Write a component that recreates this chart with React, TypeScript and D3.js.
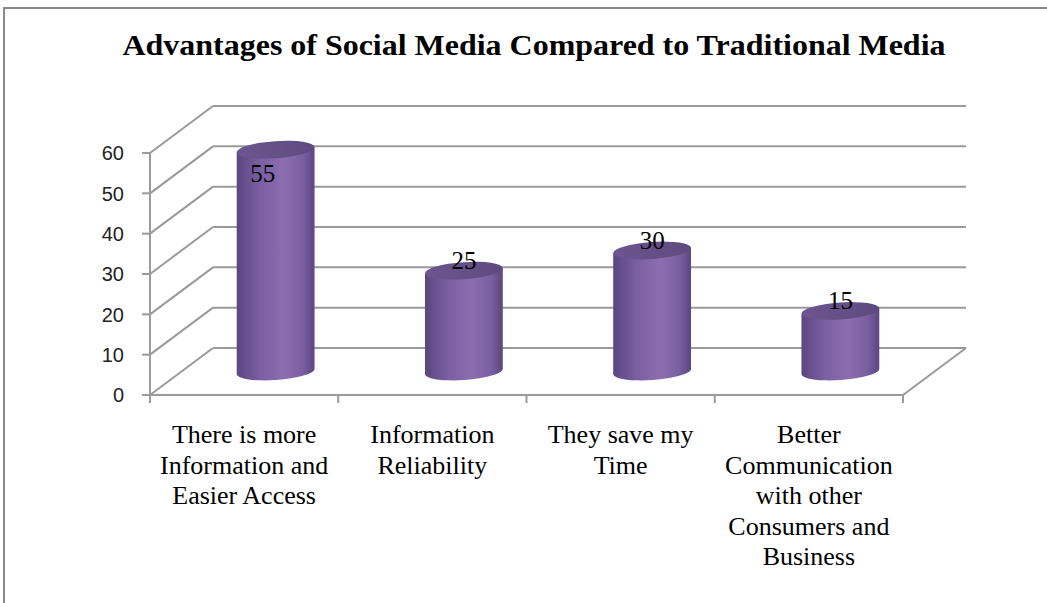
import React from "react";
import * as d3 from "d3";

const title = "Advantages of Social Media Compared to Traditional Media";
const categories = [
  ["There is more", "Information and", "Easier Access"],
  ["Information", "Reliability"],
  ["They save my", "Time"],
  ["Better", "Communication", "with other", "Consumers and", "Business"],
];
const values = [55, 25, 30, 15];
const yTicks = [0, 10, 20, 30, 40, 50, 60];

const W = 1047;
const H = 603;
const DX = 63;
const DY = -47;

export default function App() {
  const y = d3.scaleLinear().domain([0, 60]).range([395, 153]);
  const x = d3
    .scaleBand<number>()
    .domain(values.map((_, i) => i))
    .range([150, 903])
    .paddingInner(0)
    .paddingOuter(0);
  const bw = x.bandwidth();
  const rx = 39;
  const ry = 8.5;
  const theta = -4;
  const th = (theta * Math.PI) / 180;
  const ex = rx * Math.cos(th);
  const ey = rx * Math.sin(th);
  const grid = "#9a9a9a";

  return (
    <svg width={W} height={H} style={{ display: "block", position: "absolute", left: 0, top: 0 }}>
      <defs>
        <linearGradient id="body" x1="0" x2="1" y1="0" y2="0">
          <stop offset="0" stopColor="#5a4680" />
          <stop offset="0.3" stopColor="#7a5fa2" />
          <stop offset="0.6" stopColor="#8c6eb0" />
          <stop offset="0.85" stopColor="#7a5fa0" />
          <stop offset="1" stopColor="#5a4680" />
        </linearGradient>
        <linearGradient id="top" x1="0" x2="1" y1="0" y2="0">
          <stop offset="0" stopColor="#6c5590" />
          <stop offset="1" stopColor="#5e4a80" />
        </linearGradient>
      </defs>
      <rect x={0} y={0} width={W} height={H} fill="#fff" />
      {/* chart border */}
      <path d={`M4,${H} L4,8 L${W},8`} fill="none" stroke="#8a8a8a" strokeWidth={2} />
      <text
        x={534}
        y={55}
        textAnchor="middle"
        fontFamily="'Liberation Serif', 'Times New Roman', serif"
        fontWeight="bold"
        fontSize={30}
        textLength={823}
        lengthAdjust="spacingAndGlyphs"
      >
        {title}
      </text>
      {/* back wall gridlines and side diagonals */}
      {yTicks.map((t) => (
        <g key={t}>
          <line x1={150 + DX} x2={903 + DX} y1={y(t) + DY} y2={y(t) + DY} stroke={grid} strokeWidth={2} />
          <line x1={150} x2={150 + DX} y1={y(t)} y2={y(t) + DY} stroke={grid} strokeWidth={2} />
        </g>
      ))}
      {/* floor */}
      <line x1={150} x2={903} y1={y(0)} y2={y(0)} stroke={grid} strokeWidth={2} />
      <line x1={903} x2={903 + DX} y1={y(0)} y2={y(0) + DY} stroke={grid} strokeWidth={2} />
      {/* y axis */}
      <line x1={150} x2={150} y1={y(60)} y2={y(0)} stroke={grid} strokeWidth={2} />
      {yTicks.map((t) => (
        <g key={"t" + t}>
          <line x1={142} x2={150} y1={y(t)} y2={y(t)} stroke={grid} strokeWidth={2} />
          <text
            x={124}
            y={y(t)}
            dy="0.36em"
            textAnchor="end"
            fontFamily="'Liberation Sans', Arial, sans-serif"
            fontSize={20}
            fill="#222"
          >
            {t}
          </text>
        </g>
      ))}
      {/* x ticks */}
      {[...values.map((_, i) => x(i)!), 903].map((tx, i) => (
        <line key={"x" + i} x1={tx} x2={tx} y1={y(0)} y2={y(0) + 8} stroke={grid} strokeWidth={2} />
      ))}
      {/* cylinders */}
      {values.map((v, i) => {
        const cx = x(i)! + bw / 2 + DX / 2;
        const base = y(0) + DY / 2;
        const top = y(v) + DY / 2;
        const body = `M${cx - ex},${top - ey} L${cx - ex},${base - ey} A${rx},${ry} ${theta} 0 0 ${cx + ex},${base + ey} L${cx + ex},${top + ey} Z`;
        let lx = cx;
        let ly = top - 2;
        if (ly < 182) {
          ly = 182;
          lx = cx - 13;
        }
        return (
          <g key={"c" + i}>
            <path d={body} fill="url(#body)" />
            <ellipse
              cx={cx}
              cy={top}
              rx={rx}
              ry={ry}
              transform={`rotate(${theta} ${cx} ${top})`}
              fill="url(#top)"
            />
            <text
              x={lx}
              y={ly}
              textAnchor="middle"
              fontFamily="'Liberation Serif', 'Times New Roman', serif"
              fontSize={25}
              fill="#000"
            >
              {v}
            </text>
          </g>
        );
      })}
      {/* category labels */}
      {categories.map((lines, i) => (
        <text
          key={"l" + i}
          textAnchor="middle"
          fontFamily="'Liberation Serif', 'Times New Roman', serif"
          fontSize={26}
          fill="#000"
        >
          {lines.map((ln, j) => (
            <tspan key={j} x={x(i)! + bw / 2} y={443 + j * 30.5}>
              {ln}
            </tspan>
          ))}
        </text>
      ))}
    </svg>
  );
}
